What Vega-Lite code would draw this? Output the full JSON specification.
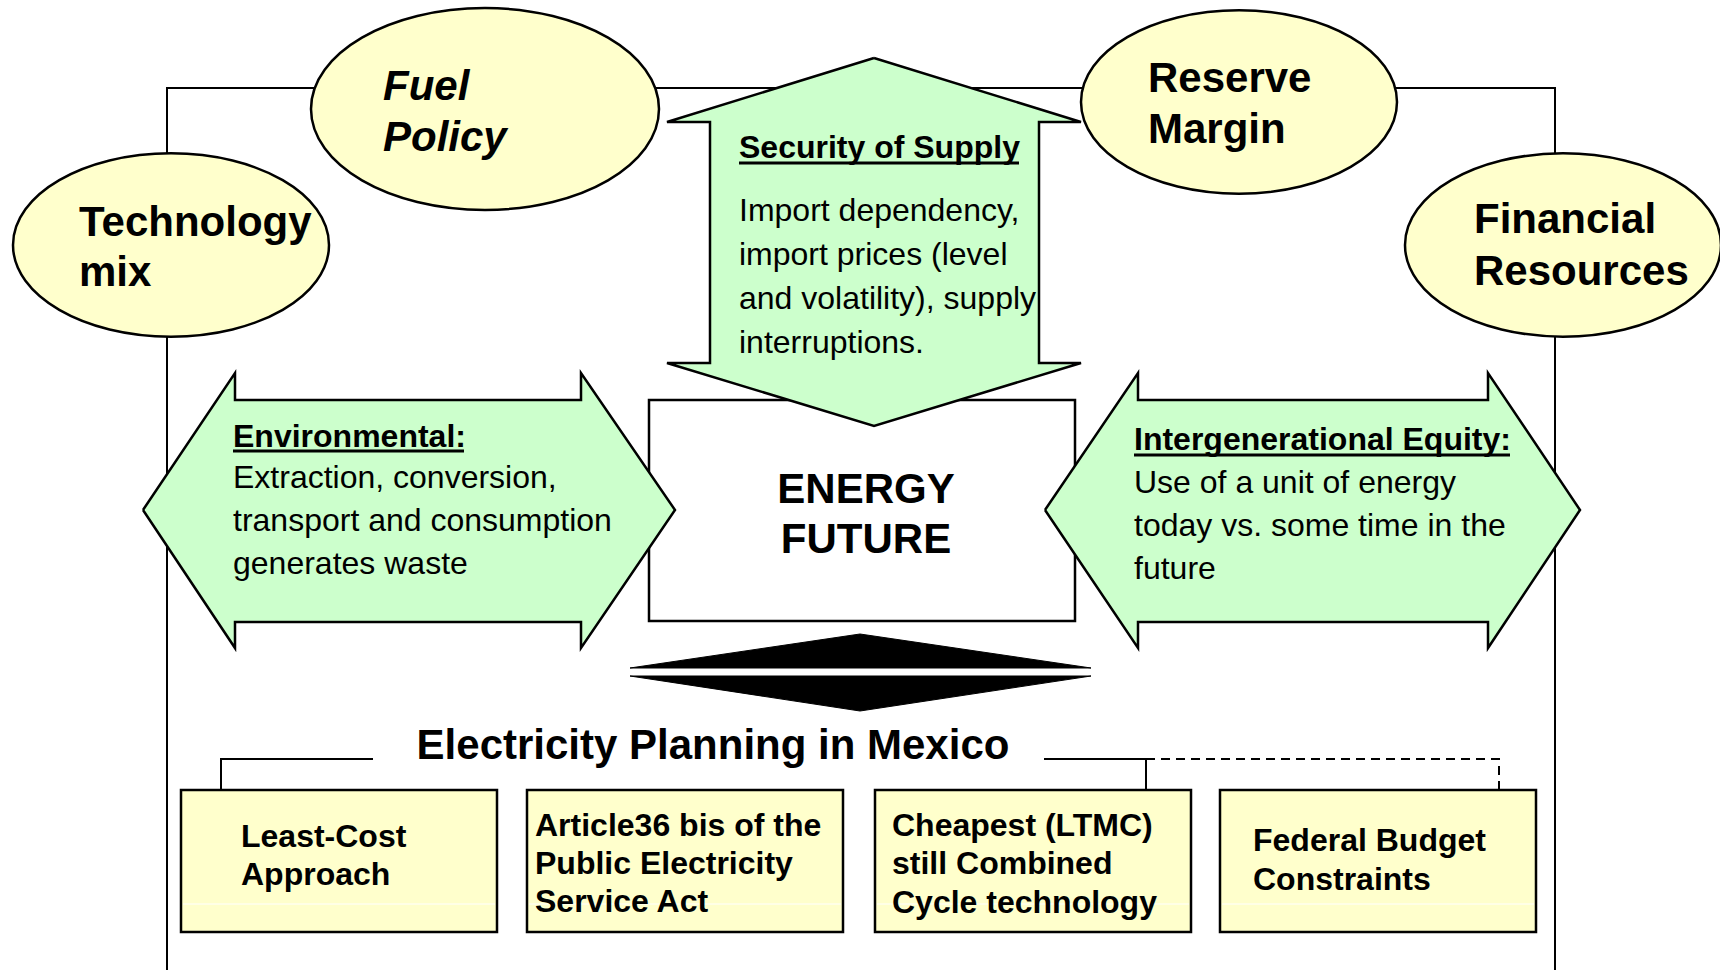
{
  "$schema": "https://vega.github.io/schema/vega-lite/v6.json",
  "width": 1720,
  "height": 970,
  "autosize": {"type": "none"},
  "padding": 0,
  "background": "white",
  "config": {"view": {"stroke": null}, "text": {"font": "Liberation Sans", "color": "black"}},
  "datasets": {
    "frame": [
      {"x": 167, "y": 975, "o": 1}, {"x": 167, "y": 88, "o": 2}, {"x": 1555, "y": 88, "o": 3}, {"x": 1555, "y": 975, "o": 4}
    ],
    "boxes": [
      {"kind": "center", "x": 649, "x2": 1075, "y": 400, "y2": 621}
    ],
    "planBoxes": [
      {"kind": "Least-Cost", "x": 181, "x2": 497, "y": 790, "y2": 932},
      {"kind": "Article36", "x": 527, "x2": 843, "y": 790, "y2": 932},
      {"kind": "Cheapest", "x": 875, "x2": 1191, "y": 790, "y2": 932},
      {"kind": "Federal", "x": 1220, "x2": 1536, "y": 790, "y2": 932}
    ],
    "arrows": [
      {"shape": "env", "o": 1, "x": 143, "y": 510}, {"shape": "env", "o": 2, "x": 235, "y": 373},
      {"shape": "env", "o": 3, "x": 235, "y": 400}, {"shape": "env", "o": 4, "x": 581, "y": 400},
      {"shape": "env", "o": 5, "x": 581, "y": 373}, {"shape": "env", "o": 6, "x": 675, "y": 510},
      {"shape": "env", "o": 7, "x": 581, "y": 648}, {"shape": "env", "o": 8, "x": 581, "y": 622},
      {"shape": "env", "o": 9, "x": 235, "y": 622}, {"shape": "env", "o": 10, "x": 235, "y": 648},
      {"shape": "env", "o": 11, "x": 143, "y": 510},
      {"shape": "inter", "o": 1, "x": 1045, "y": 510}, {"shape": "inter", "o": 2, "x": 1138, "y": 373},
      {"shape": "inter", "o": 3, "x": 1138, "y": 400}, {"shape": "inter", "o": 4, "x": 1488, "y": 400},
      {"shape": "inter", "o": 5, "x": 1488, "y": 373}, {"shape": "inter", "o": 6, "x": 1580, "y": 510},
      {"shape": "inter", "o": 7, "x": 1488, "y": 648}, {"shape": "inter", "o": 8, "x": 1488, "y": 622},
      {"shape": "inter", "o": 9, "x": 1138, "y": 622}, {"shape": "inter", "o": 10, "x": 1138, "y": 648},
      {"shape": "inter", "o": 11, "x": 1045, "y": 510},
      {"shape": "sec", "o": 1, "x": 874, "y": 58}, {"shape": "sec", "o": 2, "x": 1081, "y": 122},
      {"shape": "sec", "o": 3, "x": 1039, "y": 122}, {"shape": "sec", "o": 4, "x": 1039, "y": 363},
      {"shape": "sec", "o": 5, "x": 1081, "y": 363}, {"shape": "sec", "o": 6, "x": 874, "y": 426},
      {"shape": "sec", "o": 7, "x": 667, "y": 363}, {"shape": "sec", "o": 8, "x": 710, "y": 363},
      {"shape": "sec", "o": 9, "x": 710, "y": 122}, {"shape": "sec", "o": 10, "x": 667, "y": 122},
      {"shape": "sec", "o": 11, "x": 874, "y": 58}
    ],
    "black": [
      {"shape": "top", "o": 1, "x": 630, "y": 668}, {"shape": "top", "o": 2, "x": 860, "y": 634},
      {"shape": "top", "o": 3, "x": 1091, "y": 668}, {"shape": "top", "o": 4, "x": 630, "y": 668},
      {"shape": "bottom", "o": 1, "x": 630, "y": 676}, {"shape": "bottom", "o": 2, "x": 1091, "y": 676},
      {"shape": "bottom", "o": 3, "x": 860, "y": 711}, {"shape": "bottom", "o": 4, "x": 630, "y": 676}
    ],
    "ellipses": [
      {"name": "Technology mix", "x": 171, "y": 245},
      {"name": "Fuel Policy", "x": 485, "y": 109},
      {"name": "Reserve Margin", "x": 1239, "y": 102},
      {"name": "Financial Resources", "x": 1563, "y": 245}
    ],
    "conn": [
      {"id": "a", "o": 1, "x": 221, "y": 790}, {"id": "a", "o": 2, "x": 221, "y": 759}, {"id": "a", "o": 3, "x": 373, "y": 759},
      {"id": "b", "o": 1, "x": 1044, "y": 759}, {"id": "b", "o": 2, "x": 1146, "y": 759}, {"id": "b", "o": 3, "x": 1146, "y": 790}
    ],
    "dash": [
      {"o": 1, "x": 1146, "y": 759}, {"o": 2, "x": 1499, "y": 759}, {"o": 3, "x": 1499, "y": 790}
    ],
    "whiteLines": [
      {"x": 183, "x2": 495, "y": 904}, {"x": 529, "x2": 841, "y": 904},
      {"x": 877, "x2": 1189, "y": 904}, {"x": 1222, "x2": 1534, "y": 904}
    ],
    "underlines": [
      {"x": 739, "x2": 1019, "y": 163},
      {"x": 233, "x2": 464, "y": 451},
      {"x": 1134, "x2": 1510, "y": 455}
    ],
    "bigLabels": [
      {"t": "Technology", "x": 79, "y": 223}, {"t": "mix", "x": 79, "y": 273},
      {"t": "Reserve", "x": 1148, "y": 79}, {"t": "Margin", "x": 1148, "y": 130},
      {"t": "Financial", "x": 1474, "y": 220}, {"t": "Resources", "x": 1474, "y": 272}
    ],
    "italicLabels": [
      {"t": "Fuel", "x": 383, "y": 87}, {"t": "Policy", "x": 383, "y": 138}
    ],
    "headings": [
      {"t": "Security of Supply", "x": 739, "y": 148},
      {"t": "Environmental:", "x": 233, "y": 437},
      {"t": "Intergenerational Equity:", "x": 1134, "y": 440}
    ],
    "body": [
      {"t": "Import dependency,", "x": 739, "y": 211},
      {"t": "import prices (level", "x": 739, "y": 255},
      {"t": "and volatility), supply", "x": 739, "y": 299},
      {"t": "interruptions.", "x": 739, "y": 343},
      {"t": "Extraction, conversion,", "x": 233, "y": 478},
      {"t": "transport and consumption", "x": 233, "y": 521},
      {"t": "generates waste", "x": 233, "y": 564},
      {"t": "Use of a unit of energy", "x": 1134, "y": 483},
      {"t": "today vs. some time in the", "x": 1134, "y": 526},
      {"t": "future", "x": 1134, "y": 569}
    ],
    "centerText": [
      {"t": "ENERGY", "x": 866, "y": 490},
      {"t": "FUTURE", "x": 866, "y": 540},
      {"t": "Electricity Planning in Mexico", "x": 713, "y": 746}
    ],
    "boxText": [
      {"t": "Least-Cost", "x": 241, "y": 837},
      {"t": "Approach", "x": 241, "y": 875},
      {"t": "Article36 bis of the", "x": 535, "y": 826},
      {"t": "Public Electricity", "x": 535, "y": 864},
      {"t": "Service Act", "x": 535, "y": 902},
      {"t": "Cheapest (LTMC)", "x": 892, "y": 826},
      {"t": "still Combined", "x": 892, "y": 864},
      {"t": "Cycle technology", "x": 892, "y": 903},
      {"t": "Federal Budget", "x": 1253, "y": 841},
      {"t": "Constraints", "x": 1253, "y": 880}
    ]
  },
  "encoding": {
    "x": {"field": "x", "type": "quantitative", "scale": {"domain": [0, 1720], "nice": false, "zero": false}, "axis": null},
    "y": {"field": "y", "type": "quantitative", "scale": {"domain": [0, 970], "nice": false, "zero": false, "reverse": true}, "axis": null}
  },
  "layer": [
    {
      "data": {"name": "frame"},
      "mark": {"type": "line", "stroke": "black", "strokeWidth": 2, "strokeJoin": "miter"},
      "encoding": {"order": {"field": "o", "type": "quantitative"}}
    },
    {
      "data": {"name": "boxes"},
      "mark": {"type": "rect", "fill": "white", "stroke": "black", "strokeWidth": 2.5},
      "encoding": {"x2": {"field": "x2"}, "y2": {"field": "y2"}}
    },
    {
      "data": {"name": "arrows"},
      "mark": {"type": "line", "fill": "#CCFFCC", "stroke": "black", "strokeWidth": 2.5, "strokeJoin": "miter"},
      "encoding": {"detail": {"field": "shape"}, "order": {"field": "o", "type": "quantitative"}}
    },
    {
      "data": {"name": "black"},
      "mark": {"type": "line", "fill": "black", "stroke": "black", "strokeWidth": 1, "strokeJoin": "miter"},
      "encoding": {"detail": {"field": "shape"}, "order": {"field": "o", "type": "quantitative"}}
    },
    {
      "data": {"name": "ellipses"},
      "mark": {
        "type": "point",
        "filled": true,
        "fill": "#FFFFCC",
        "stroke": "black",
        "strokeWidth": 2.5,
        "opacity": 1,
        "shape": "M-1,0C-1,-0.3203,-0.5523,-0.58,0,-0.58C0.5523,-0.58,1,-0.3203,1,0C1,0.3203,0.5523,0.58,0,0.58C-0.5523,0.58,-1,0.3203,-1,0Z"
      },
      "encoding": {
        "size": {"condition": {"test": "datum.name === 'Fuel Policy'", "value": 121104}, "value": 99856}
      }
    },
    {
      "data": {"name": "planBoxes"},
      "mark": {"type": "rect", "fill": "#FFFFCC", "stroke": "black", "strokeWidth": 2.5},
      "encoding": {"x2": {"field": "x2"}, "y2": {"field": "y2"}}
    },
    {
      "data": {"name": "whiteLines"},
      "mark": {"type": "rule", "stroke": "white", "strokeWidth": 1},
      "encoding": {"x2": {"field": "x2"}}
    },
    {
      "data": {"name": "conn"},
      "mark": {"type": "line", "stroke": "black", "strokeWidth": 2, "strokeJoin": "miter"},
      "encoding": {"detail": {"field": "id"}, "order": {"field": "o", "type": "quantitative"}}
    },
    {
      "data": {"name": "dash"},
      "mark": {"type": "line", "stroke": "black", "strokeWidth": 2, "strokeDash": [9, 6], "strokeJoin": "miter"},
      "encoding": {"order": {"field": "o", "type": "quantitative"}}
    },
    {
      "data": {"name": "underlines"},
      "mark": {"type": "rule", "stroke": "black", "strokeWidth": 3},
      "encoding": {"x2": {"field": "x2"}}
    },
    {
      "data": {"name": "bigLabels"},
      "mark": {"type": "text", "align": "left", "baseline": "middle", "fontSize": 42, "fontWeight": "bold"},
      "encoding": {"text": {"field": "t"}}
    },
    {
      "data": {"name": "italicLabels"},
      "mark": {"type": "text", "align": "left", "baseline": "middle", "fontSize": 42, "fontWeight": "bold", "fontStyle": "italic"},
      "encoding": {"text": {"field": "t"}}
    },
    {
      "data": {"name": "headings"},
      "mark": {"type": "text", "align": "left", "baseline": "middle", "fontSize": 32, "fontWeight": "bold"},
      "encoding": {"text": {"field": "t"}}
    },
    {
      "data": {"name": "body"},
      "mark": {"type": "text", "align": "left", "baseline": "middle", "fontSize": 32},
      "encoding": {"text": {"field": "t"}}
    },
    {
      "data": {"name": "centerText"},
      "mark": {"type": "text", "align": "center", "baseline": "middle", "fontSize": 42, "fontWeight": "bold"},
      "encoding": {"text": {"field": "t"}}
    },
    {
      "data": {"name": "boxText"},
      "mark": {"type": "text", "align": "left", "baseline": "middle", "fontSize": 32, "fontWeight": "bold"},
      "encoding": {"text": {"field": "t"}}
    }
  ]
}
